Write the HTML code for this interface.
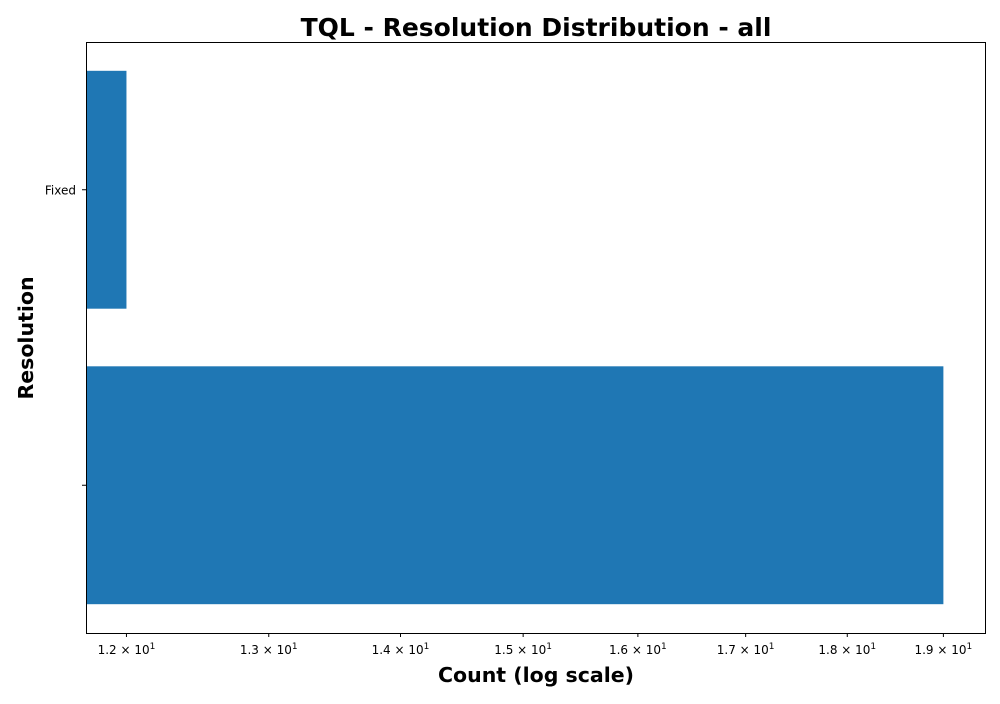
<!DOCTYPE html>
<html><head><meta charset="utf-8"><style>
body{margin:0;background:#fff;font-family:"DejaVu Sans","Liberation Sans",sans-serif;}
</style></head><body>
<svg id="chart" width="1000" height="700" xmlns="http://www.w3.org/2000/svg" font-family="DejaVu Sans, Liberation Sans, sans-serif">
<rect width="1000" height="700" fill="#fff"/>
<text x="536" y="36" text-anchor="middle" font-size="25" font-weight="bold">TQL - Resolution Distribution - all</text>
<g id="bars"></g>
<rect x="86.5" y="42.5" width="899" height="591" fill="none" stroke="#000" stroke-width="1"/>
<g id="xticks"></g><g id="yticks"></g>
<text x="536" y="682" text-anchor="middle" font-size="20.5" font-weight="bold">Count (log scale)</text>
<text transform="translate(33,338) rotate(-90)" text-anchor="middle" font-size="20.5" font-weight="bold">Resolution</text>
</svg>
<script>
const categories = ["Fixed", ""];
const counts = [12, 19];
const xTicks = [12, 13, 14, 15, 16, 17, 18, 19];
const xTickLabels = ["1.2", "1.3", "1.4", "1.5", "1.6", "1.7", "1.8", "1.9"];

const NS = "http://www.w3.org/2000/svg";
const L = 86, R = 985, T = 42, B = 633;
const lmin = Math.log10(11.73), lmax = Math.log10(19.45);
function xScale(v){ return L + (Math.log10(v) - lmin) / (lmax - lmin) * (R - L); }
const step = (B - T) / categories.length;
function yCenter(i){ return T + step * (i + 0.5); }
function mk(tag, attrs, parent){ const e = document.createElementNS(NS, tag); for (const k in attrs) e.setAttribute(k, attrs[k]); parent.appendChild(e); return e; }

const bars = document.getElementById("bars");
counts.forEach((c, i) => {
  const h = step * 0.805;
  const r = mk("rect", {x: L, y: yCenter(i) - h / 2, width: Math.max(0, xScale(c) - L), height: h, fill: "#1f77b4"}, bars);
  
  
});

const xt = document.getElementById("xticks");
xTicks.forEach((v, i) => {
  const x = xScale(v);
  const ln = mk("line", {x1: x, x2: x, y1: B, y2: B + 4, stroke: "#000"}, xt);
  
  
  const t = mk("text", {x: x, y: B + 21, "text-anchor": "middle", "font-size": "12"}, xt);
  
  
  t.textContent = xTickLabels[i] + " \u00d7 10";
  const s = mk("tspan", {dy: "-5", "font-size": "9"}, t);
  s.textContent = "1";
});

const yt = document.getElementById("yticks");
categories.forEach((c, i) => {
  const y = yCenter(i);
  const ln = mk("line", {x1: L - 4, x2: L, y1: y, y2: y, stroke: "#000"}, yt);
  
  
  const t = mk("text", {x: L - 10, y: y + 4.5, "text-anchor": "end", "font-size": "12"}, yt);
  
  
  t.textContent = c;
});
</script>
</body></html>
